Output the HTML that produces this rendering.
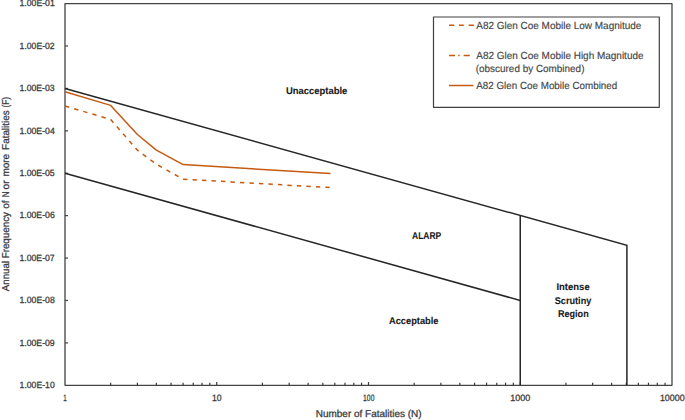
<!DOCTYPE html>
<html><head><meta charset="utf-8"><title>F-N Curve</title>
<style>
html,body{margin:0;padding:0;background:#fff;}
body{width:685px;height:420px;overflow:hidden;}
svg{display:block;font-family:"Liberation Sans", sans-serif;}
text{text-rendering:geometricPrecision;}

</style></head>
<body>
<svg width="685" height="420" viewBox="0 0 685 420">
<rect width="685" height="420" fill="#fff"/>
<g class="gr"><path d="M65.00 385.29 V3.60 H672.00 V385.29 Z" fill="none" stroke="#444444" stroke-width="1.3" stroke-linejoin="round"/>
<line x1="65.00" y1="46.01" x2="68.00" y2="46.01" stroke="#404040" stroke-width="1.2"/>
<line x1="65.00" y1="88.42" x2="68.00" y2="88.42" stroke="#404040" stroke-width="1.2"/>
<line x1="65.00" y1="130.83" x2="68.00" y2="130.83" stroke="#404040" stroke-width="1.2"/>
<line x1="65.00" y1="173.24" x2="68.00" y2="173.24" stroke="#404040" stroke-width="1.2"/>
<line x1="65.00" y1="215.65" x2="68.00" y2="215.65" stroke="#404040" stroke-width="1.2"/>
<line x1="65.00" y1="258.06" x2="68.00" y2="258.06" stroke="#404040" stroke-width="1.2"/>
<line x1="65.00" y1="300.47" x2="68.00" y2="300.47" stroke="#404040" stroke-width="1.2"/>
<line x1="65.00" y1="342.88" x2="68.00" y2="342.88" stroke="#404040" stroke-width="1.2"/>
<line x1="110.68" y1="385.29" x2="110.68" y2="382.69" stroke="#383838" stroke-width="1.2"/>
<line x1="137.40" y1="385.29" x2="137.40" y2="382.69" stroke="#383838" stroke-width="1.2"/>
<line x1="156.36" y1="385.29" x2="156.36" y2="382.69" stroke="#383838" stroke-width="1.2"/>
<line x1="171.07" y1="385.29" x2="171.07" y2="382.69" stroke="#383838" stroke-width="1.2"/>
<line x1="183.08" y1="385.29" x2="183.08" y2="382.69" stroke="#383838" stroke-width="1.2"/>
<line x1="193.24" y1="385.29" x2="193.24" y2="382.69" stroke="#383838" stroke-width="1.2"/>
<line x1="202.04" y1="385.29" x2="202.04" y2="382.69" stroke="#383838" stroke-width="1.2"/>
<line x1="209.81" y1="385.29" x2="209.81" y2="382.69" stroke="#383838" stroke-width="1.2"/>
<line x1="216.75" y1="385.29" x2="216.75" y2="382.09" stroke="#383838" stroke-width="1.2"/>
<line x1="262.43" y1="385.29" x2="262.43" y2="382.69" stroke="#383838" stroke-width="1.2"/>
<line x1="289.15" y1="385.29" x2="289.15" y2="382.69" stroke="#383838" stroke-width="1.2"/>
<line x1="308.11" y1="385.29" x2="308.11" y2="382.69" stroke="#383838" stroke-width="1.2"/>
<line x1="322.82" y1="385.29" x2="322.82" y2="382.69" stroke="#383838" stroke-width="1.2"/>
<line x1="334.83" y1="385.29" x2="334.83" y2="382.69" stroke="#383838" stroke-width="1.2"/>
<line x1="344.99" y1="385.29" x2="344.99" y2="382.69" stroke="#383838" stroke-width="1.2"/>
<line x1="353.79" y1="385.29" x2="353.79" y2="382.69" stroke="#383838" stroke-width="1.2"/>
<line x1="361.56" y1="385.29" x2="361.56" y2="382.69" stroke="#383838" stroke-width="1.2"/>
<line x1="368.50" y1="385.29" x2="368.50" y2="382.09" stroke="#383838" stroke-width="1.2"/>
<line x1="414.18" y1="385.29" x2="414.18" y2="382.69" stroke="#383838" stroke-width="1.2"/>
<line x1="440.90" y1="385.29" x2="440.90" y2="382.69" stroke="#383838" stroke-width="1.2"/>
<line x1="459.86" y1="385.29" x2="459.86" y2="382.69" stroke="#383838" stroke-width="1.2"/>
<line x1="474.57" y1="385.29" x2="474.57" y2="382.69" stroke="#383838" stroke-width="1.2"/>
<line x1="486.58" y1="385.29" x2="486.58" y2="382.69" stroke="#383838" stroke-width="1.2"/>
<line x1="496.74" y1="385.29" x2="496.74" y2="382.69" stroke="#383838" stroke-width="1.2"/>
<line x1="505.54" y1="385.29" x2="505.54" y2="382.69" stroke="#383838" stroke-width="1.2"/>
<line x1="513.31" y1="385.29" x2="513.31" y2="382.69" stroke="#383838" stroke-width="1.2"/>
<line x1="520.25" y1="385.29" x2="520.25" y2="382.09" stroke="#383838" stroke-width="1.2"/>
<line x1="565.93" y1="385.29" x2="565.93" y2="382.69" stroke="#383838" stroke-width="1.2"/>
<line x1="592.65" y1="385.29" x2="592.65" y2="382.69" stroke="#383838" stroke-width="1.2"/>
<line x1="611.61" y1="385.29" x2="611.61" y2="382.69" stroke="#383838" stroke-width="1.2"/>
<line x1="626.32" y1="385.29" x2="626.32" y2="382.69" stroke="#383838" stroke-width="1.2"/>
<line x1="638.33" y1="385.29" x2="638.33" y2="382.69" stroke="#383838" stroke-width="1.2"/>
<line x1="648.49" y1="385.29" x2="648.49" y2="382.69" stroke="#383838" stroke-width="1.2"/>
<line x1="657.29" y1="385.29" x2="657.29" y2="382.69" stroke="#383838" stroke-width="1.2"/>
<line x1="665.06" y1="385.29" x2="665.06" y2="382.69" stroke="#383838" stroke-width="1.2"/>
<polyline points="65.00,88.42 626.90,245.29 626.90,385.29" fill="none" stroke="#262626" stroke-width="1.5"/>
<polyline points="65.00,173.24 520.25,300.47" fill="none" stroke="#262626" stroke-width="1.5"/>
<line x1="520.25" y1="215.65" x2="520.25" y2="385.29" stroke="#262626" stroke-width="1.5"/>
<polyline points="65.00,106.00 110.68,119.50 137.40,150.20 156.36,164.20 183.08,179.20 330.52,187.60" fill="none" stroke="#c55a11" stroke-width="1.5" stroke-dasharray="4.4 5.1" stroke-linejoin="round"/>
<polyline points="65.00,91.70 110.68,105.40 137.40,134.50 156.36,150.20 183.08,164.60 330.52,173.50" fill="none" stroke="#c55a11" stroke-width="1.5" stroke-linejoin="round"/>
<rect x="433.5" y="17.0" width="225.8" height="90.3" fill="#fff" stroke="#404040" stroke-width="1.2" stroke-linejoin="round"/>
<path d="M449 25.3 H454.3 M459 25.3 H463.8 M468.6 25.3 H473.9" stroke="#c55a11" stroke-width="1.5"/>
<path d="M449 55.5 H455 M458.2 55.5 H459.6 M463.6 55.5 H469.8" stroke="#c55a11" stroke-width="1.5"/>
<line x1="449" y1="85.5" x2="473.5" y2="85.5" stroke="#c55a11" stroke-width="1.5"/></g>
<text class="tx" id="yl0" x="19.45" y="6.40" font-size="9.0" font-weight="normal" fill="#3a3a3a" stroke="#3a3a3a" stroke-width="0.28" textLength="35.37" lengthAdjust="spacingAndGlyphs">1.00E-01</text>
<text class="tx" id="yl1" x="19.60" y="48.81" font-size="9.0" font-weight="normal" fill="#3a3a3a" stroke="#3a3a3a" stroke-width="0.28" textLength="35.04" lengthAdjust="spacingAndGlyphs">1.00E-02</text>
<text class="tx" id="yl2" x="19.44" y="91.22" font-size="9.0" font-weight="normal" fill="#3a3a3a" stroke="#3a3a3a" stroke-width="0.28" textLength="35.21" lengthAdjust="spacingAndGlyphs">1.00E-03</text>
<text class="tx" id="yl3" x="19.44" y="133.63" font-size="9.0" font-weight="normal" fill="#3a3a3a" stroke="#3a3a3a" stroke-width="0.28" textLength="35.29" lengthAdjust="spacingAndGlyphs">1.00E-04</text>
<text class="tx" id="yl4" x="19.46" y="176.04" font-size="9.0" font-weight="normal" fill="#3a3a3a" stroke="#3a3a3a" stroke-width="0.28" textLength="35.19" lengthAdjust="spacingAndGlyphs">1.00E-05</text>
<text class="tx" id="yl5" x="19.45" y="218.45" font-size="9.0" font-weight="normal" fill="#3a3a3a" stroke="#3a3a3a" stroke-width="0.28" textLength="35.31" lengthAdjust="spacingAndGlyphs">1.00E-06</text>
<text class="tx" id="yl6" x="19.46" y="260.86" font-size="9.0" font-weight="normal" fill="#3a3a3a" stroke="#3a3a3a" stroke-width="0.28" textLength="35.25" lengthAdjust="spacingAndGlyphs">1.00E-07</text>
<text class="tx" id="yl7" x="19.45" y="303.27" font-size="9.0" font-weight="normal" fill="#3a3a3a" stroke="#3a3a3a" stroke-width="0.28" textLength="35.37" lengthAdjust="spacingAndGlyphs">1.00E-08</text>
<text class="tx" id="yl8" x="19.44" y="345.68" font-size="9.0" font-weight="normal" fill="#3a3a3a" stroke="#3a3a3a" stroke-width="0.28" textLength="35.27" lengthAdjust="spacingAndGlyphs">1.00E-09</text>
<text class="tx" id="yl9" x="19.60" y="388.09" font-size="9.0" font-weight="normal" fill="#3a3a3a" stroke="#3a3a3a" stroke-width="0.28" textLength="35.11" lengthAdjust="spacingAndGlyphs">1.00E-10</text>
<text class="tx" id="xl0" x="63.14" y="400.80" font-size="9.2" font-weight="normal" fill="#3a3a3a" stroke="#3a3a3a" stroke-width="0.28" textLength="3.44" lengthAdjust="spacingAndGlyphs">1</text>
<text class="tx" id="xl1" x="211.90" y="400.80" font-size="9.2" font-weight="normal" fill="#3a3a3a" stroke="#3a3a3a" stroke-width="0.28" textLength="9.54" lengthAdjust="spacingAndGlyphs">10</text>
<text class="tx" id="xl2" x="363.11" y="400.80" font-size="9.2" font-weight="normal" fill="#3a3a3a" stroke="#3a3a3a" stroke-width="0.28" textLength="11.29" lengthAdjust="spacingAndGlyphs">100</text>
<text class="tx" id="xl3" x="510.32" y="400.80" font-size="9.2" font-weight="normal" fill="#3a3a3a" stroke="#3a3a3a" stroke-width="0.28" textLength="19.93" lengthAdjust="spacingAndGlyphs">1000</text>
<text class="tx" id="xl4" x="659.91" y="400.80" font-size="9.2" font-weight="normal" fill="#3a3a3a" stroke="#3a3a3a" stroke-width="0.28" textLength="24.75" lengthAdjust="spacingAndGlyphs">10000</text>
<text class="tx" id="xt" x="315.75" y="416.80" font-size="10.0" font-weight="normal" fill="#3a3a3a" stroke="#3a3a3a" stroke-width="0.28" textLength="105.86" lengthAdjust="spacingAndGlyphs">Number of Fatalities (N)</text>
<text class="tx" id="yt0" transform="translate(9.30 291.13) rotate(-90)" font-size="10.0" font-weight="normal" fill="#3a3a3a" stroke="#3a3a3a" stroke-width="0.28" textLength="30.08" lengthAdjust="spacingAndGlyphs">Annual</text>
<text class="tx" id="yt1" transform="translate(9.30 258.35) rotate(-90)" font-size="10.0" font-weight="normal" fill="#3a3a3a" stroke="#3a3a3a" stroke-width="0.28" textLength="46.37" lengthAdjust="spacingAndGlyphs">Frequency</text>
<text class="tx" id="yt2" transform="translate(9.30 208.86) rotate(-90)" font-size="10.0" font-weight="normal" fill="#3a3a3a" stroke="#3a3a3a" stroke-width="0.28" textLength="8.36" lengthAdjust="spacingAndGlyphs">of</text>
<text class="tx" id="yt3" transform="translate(9.30 197.17) rotate(-90)" font-size="10.0" font-weight="normal" fill="#3a3a3a" stroke="#3a3a3a" stroke-width="0.28" textLength="5.87" lengthAdjust="spacingAndGlyphs">N</text>
<text class="tx" id="yt4" transform="translate(9.30 189.38) rotate(-90)" font-size="10.0" font-weight="normal" fill="#3a3a3a" stroke="#3a3a3a" stroke-width="0.28" textLength="9.13" lengthAdjust="spacingAndGlyphs">or</text>
<text class="tx" id="yt5" transform="translate(9.30 176.60) rotate(-90)" font-size="10.0" font-weight="normal" fill="#3a3a3a" stroke="#3a3a3a" stroke-width="0.28" textLength="22.78" lengthAdjust="spacingAndGlyphs">more</text>
<text class="tx" id="yt6" transform="translate(9.30 149.89) rotate(-90)" font-size="10.0" font-weight="normal" fill="#3a3a3a" stroke="#3a3a3a" stroke-width="0.28" textLength="39.52" lengthAdjust="spacingAndGlyphs">Fatalities</text>
<text class="tx" id="yt7" transform="translate(9.30 107.52) rotate(-90)" font-size="10.0" font-weight="normal" fill="#3a3a3a" stroke="#3a3a3a" stroke-width="0.28" textLength="10.58" lengthAdjust="spacingAndGlyphs">(F)</text>
<text class="tx" id="bl0" x="285.90" y="94.10" font-size="9.8" font-weight="bold" fill="#1a1a1a" stroke="#1a1a1a" stroke-width="0.1" textLength="61.47" lengthAdjust="spacingAndGlyphs">Unacceptable</text>
<text class="tx" id="bl1" x="412.00" y="238.80" font-size="9.8" font-weight="bold" fill="#1a1a1a" stroke="#1a1a1a" stroke-width="0.1" textLength="29.30" lengthAdjust="spacingAndGlyphs">ALARP</text>
<text class="tx" id="bl2" x="388.96" y="324.40" font-size="9.8" font-weight="bold" fill="#1a1a1a" stroke="#1a1a1a" stroke-width="0.1" textLength="49.55" lengthAdjust="spacingAndGlyphs">Acceptable</text>
<text class="tx" id="bl3" x="556.43" y="290.30" font-size="9.8" font-weight="bold" fill="#1a1a1a" stroke="#1a1a1a" stroke-width="0.1" textLength="33.25" lengthAdjust="spacingAndGlyphs">Intense</text>
<text class="tx" id="bl4" x="554.73" y="303.90" font-size="9.8" font-weight="bold" fill="#1a1a1a" stroke="#1a1a1a" stroke-width="0.1" textLength="36.63" lengthAdjust="spacingAndGlyphs">Scrutiny</text>
<text class="tx" id="bl5" x="557.90" y="317.00" font-size="9.8" font-weight="bold" fill="#1a1a1a" stroke="#1a1a1a" stroke-width="0.1" textLength="30.80" lengthAdjust="spacingAndGlyphs">Region</text>
<text class="tx" id="lg0" x="476.24" y="28.70" font-size="10.3" font-weight="normal" fill="#454545" stroke="#454545" stroke-width="0.15" textLength="165.13" lengthAdjust="spacingAndGlyphs">A82 Glen Coe Mobile Low Magnitude</text>
<text class="tx" id="lg1" x="476.24" y="58.70" font-size="10.3" font-weight="normal" fill="#454545" stroke="#454545" stroke-width="0.15" textLength="167.28" lengthAdjust="spacingAndGlyphs">A82 Glen Coe Mobile High Magnitude</text>
<text class="tx" id="lg2" x="475.77" y="71.90" font-size="10.3" font-weight="normal" fill="#454545" stroke="#454545" stroke-width="0.15" textLength="108.67" lengthAdjust="spacingAndGlyphs">(obscured by Combined)</text>
<text class="tx" id="lg3" x="476.21" y="88.60" font-size="10.3" font-weight="normal" fill="#454545" stroke="#454545" stroke-width="0.15" textLength="141.04" lengthAdjust="spacingAndGlyphs">A82 Glen Coe Mobile Combined</text>
</svg>
</body></html>
